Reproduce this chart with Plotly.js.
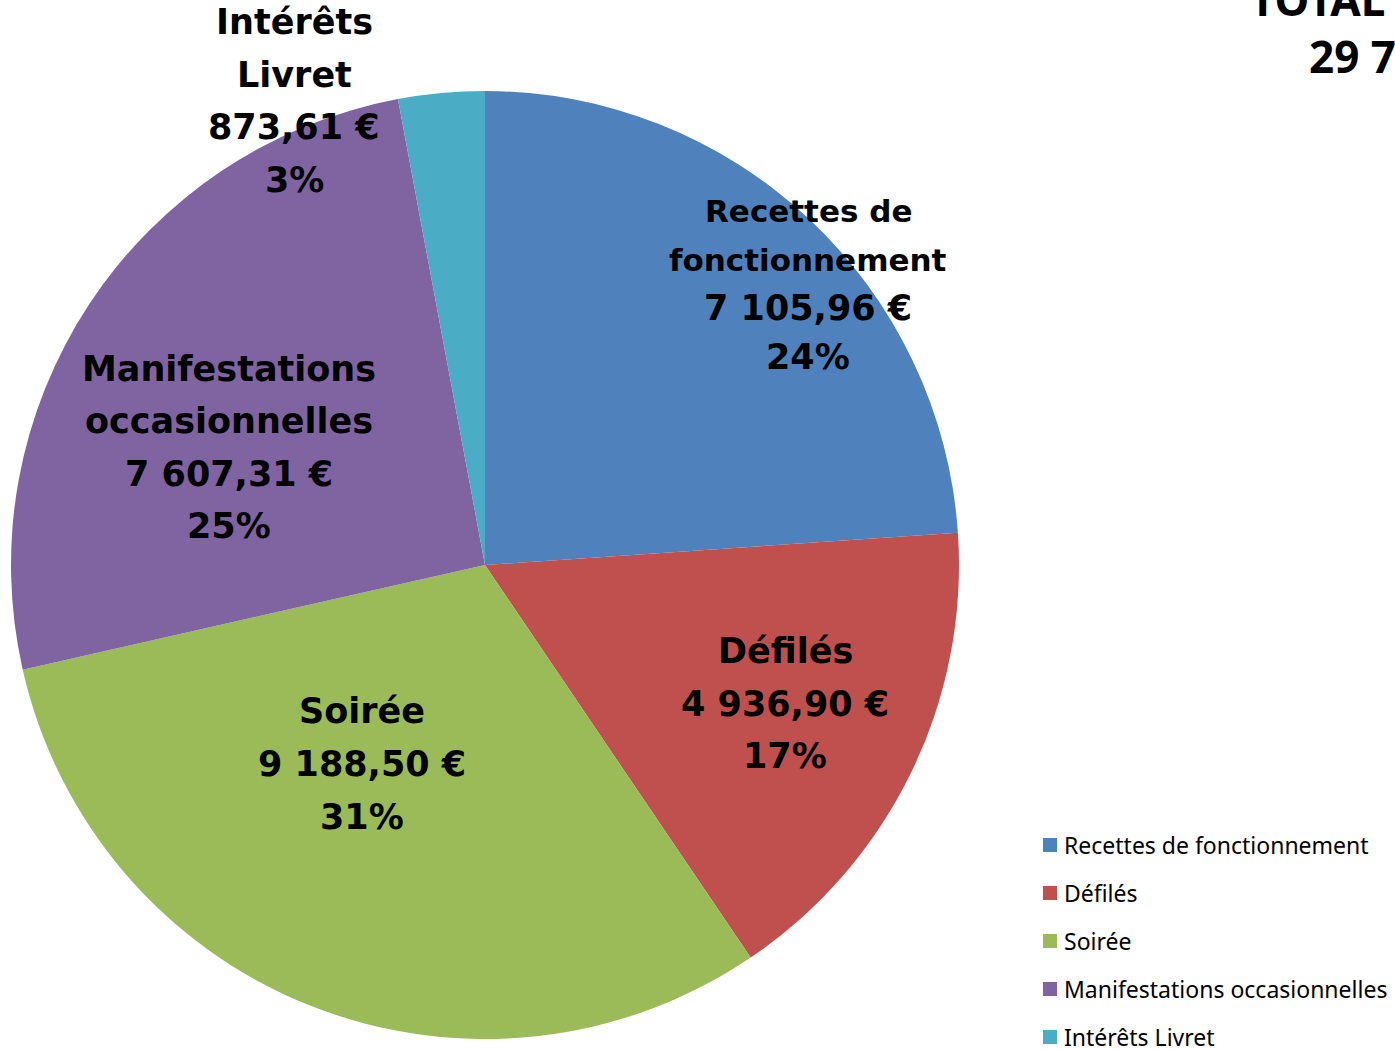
<!DOCTYPE html>
<html>
<head>
<meta charset="utf-8">
<script src="https://cdn.plot.ly/plotly-3.0.1.min.js"></script>
<style>html,body{margin:0;padding:0;background:#fff;}#chart{width:1395px;height:1049px;}</style>
</head>
<body>
<div id="chart"></div>
<script>
// ---- data ----
const categories = ["Recettes de fonctionnement", "Défilés", "Soirée", "Manifestations occasionnelles", "Intérêts Livret"];
const labelLines = [["Recettes de", "fonctionnement"], ["Défilés"], ["Soirée"], ["Manifestations", "occasionnelles"], ["Intérêts", "Livret"]];
const amounts = [7105.96, 4936.90, 9188.50, 7607.31, 873.61];
const percentLabels = ["24%", "17%", "31%", "25%", "3%"];
const colors = ["#4F81BD", "#C0504D", "#9BBB59", "#8064A2", "#4BACC6"];
const totalTitle = "TOTAL RECETTES";

// ---- layout constants ----
const W = 1395, H = 1049;
const px2x = px => px / W;
const py2y = py => 1 - py / H;
// label block centres (px) and line spacing
const labelCenterX = [808, 785, 362, 229, 294];
const labelTopLine = [211, 651, 711, 369, 22];
const labelLineGap = [48.7, 52.5, 53, 52.3, 52.7];
const nameFontSize = [31, 35, 35, 35, 35];

function fmtEuro(v) {
  const parts = v.toFixed(2).split(".");
  const intPart = parts[0].replace(/\B(?=(\d{3})+(?!\d))/g, " ");
  return intPart + "," + parts[1] + " €";
}
const total = amounts.reduce((a, b) => a + b, 0);

const trace = {
  type: "pie",
  labels: categories,
  values: amounts,
  sort: false,
  direction: "clockwise",
  rotation: 0,
  marker: { colors: colors, line: { width: 0 } },
  textinfo: "none",
  hoverinfo: "label+value+percent",
  showlegend: false,
  domain: { x: [px2x(11), px2x(959)], y: [py2y(1039), py2y(91)] }
};

const annotations = [];
const shapes = [];
categories.forEach((c, i) => {
  const names = labelLines[i];
  const lines = names.concat([fmtEuro(amounts[i]), percentLabels[i]]);
  lines.forEach((ln, j) => {
    const size = j < names.length ? nameFontSize[i] : 35;
    annotations.push({
      xref: "paper", yref: "paper",
      x: px2x(labelCenterX[i]), y: py2y(labelTopLine[i] + j * labelLineGap[i]),
      xanchor: "center", yanchor: "middle",
      text: "<b>" + ln + "</b>", showarrow: false,
      font: { family: "DejaVu Sans", size: size, color: "#000" }
    });
  });
});

// manual legend
const legTop = 845, legGap = 48;
categories.forEach((c, i) => {
  const cy = legTop + i * legGap;
  shapes.push({
    type: "rect", xref: "paper", yref: "paper",
    x0: px2x(1043), x1: px2x(1057), y0: py2y(cy + 7), y1: py2y(cy - 7),
    fillcolor: colors[i], line: { width: 0 }
  });
  annotations.push({
    xref: "paper", yref: "paper", x: px2x(1062), y: py2y(cy),
    xanchor: "left", yanchor: "middle", text: c, showarrow: false,
    font: { family: "Noto Sans", size: 23, color: "#000" }
  });
});

// total
annotations.push({
  xref: "paper", yref: "paper", x: px2x(1427), y: py2y(-1),
  xanchor: "center", yanchor: "middle", text: "<b>" + totalTitle + "</b>", showarrow: false,
  font: { family: "Noto Sans", size: 44, color: "#000" }
});
annotations.push({
  xref: "paper", yref: "paper", x: px2x(1427), y: py2y(56),
  xanchor: "center", yanchor: "middle", text: "<b>" + fmtEuro(total) + "</b>", showarrow: false,
  font: { family: "Noto Sans", size: 44, color: "#000" }
});

const layout = {
  width: W, height: H,
  margin: { l: 0, r: 0, t: 0, b: 0 },
  paper_bgcolor: "#fff",
  showlegend: false,
  annotations: annotations,
  shapes: shapes
};
Plotly.newPlot("chart", [trace], layout, { displayModeBar: false, staticPlot: true });
</script>
</body>
</html>
